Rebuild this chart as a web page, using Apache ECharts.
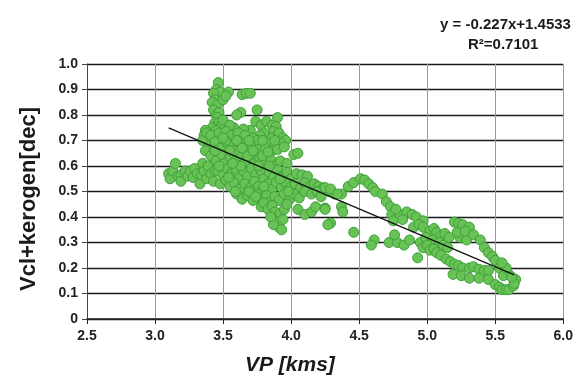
<!DOCTYPE html>
<html>
<head>
    <meta charset="utf-8">
    <title>VP vs Vcl+kerogen</title>
    <script src="https://cdn.jsdelivr.net/npm/echarts@6/dist/echarts.min.js"></script>
    <style>
        html, body { margin: 0; padding: 0; background: #fff; }
    </style>
</head>
<body>
<div id="main" style="width: 576px;height:385px;"></div>
<script type="text/javascript">
    // data, grouped by the part of the cloud they belong to
    // each point is [VP (km/s), Vcl+kerogen (dec)]
    const leftBand = [
        [3.10,0.57],[3.11,0.55],[3.13,0.58],[3.15,0.61],[3.17,0.56],[3.19,0.565],[3.19,0.54],
        [3.22,0.58],[3.24,0.56],[3.26,0.58],[3.28,0.555],[3.29,0.59],[3.31,0.57],[3.33,0.53],
        [3.34,0.565],[3.35,0.61],[3.36,0.58],[3.38,0.55],[3.39,0.60],[3.41,0.57],[3.43,0.54],[3.44,0.58]
    ];
    const upperColumn = [
        [3.465,0.927],[3.45,0.90],[3.48,0.89],[3.43,0.885],[3.44,0.86],[3.42,0.85],[3.46,0.84],
        [3.43,0.82],[3.45,0.80],[3.47,0.81],[3.46,0.79],[3.44,0.77],[3.47,0.77],[3.49,0.76],
        [3.42,0.75],[3.45,0.74],[3.50,0.78],[3.50,0.86],[3.54,0.89],[3.52,0.875],[3.64,0.88],
        [3.67,0.885],[3.70,0.885],[3.63,0.81],[3.60,0.80],[3.75,0.82],[3.74,0.775],[3.78,0.76],
        [3.82,0.775],[3.86,0.76],[3.90,0.79],[3.89,0.755],[3.87,0.735],[3.91,0.73],[3.94,0.71],
        [3.96,0.70],[3.92,0.69],[3.85,0.71],[3.80,0.73],[3.77,0.72],[3.70,0.74],[3.65,0.745],
        [3.58,0.75],[3.55,0.76],[3.37,0.74],[3.39,0.71],[3.36,0.72],[3.35,0.70]
    ];
    const mainMass = [
        [3.38,0.73],[3.41,0.72],[3.47,0.73],[3.52,0.735],[3.56,0.72],[3.61,0.73],[3.66,0.72],
        [3.72,0.71],[3.75,0.70],[3.82,0.69],[3.88,0.70],
        [3.40,0.68],[3.44,0.695],[3.48,0.67],[3.53,0.69],[3.57,0.68],[3.62,0.695],[3.67,0.67],
        [3.70,0.685],[3.76,0.665],[3.81,0.67],[3.86,0.66],[3.90,0.665],[3.95,0.675],[3.37,0.66],
        [3.41,0.64],[3.45,0.62],[3.49,0.645],[3.51,0.61],[3.55,0.635],[3.59,0.62],[3.63,0.64],
        [3.66,0.615],[3.70,0.635],[3.73,0.61],[3.77,0.63],[3.81,0.615],[3.85,0.625],[3.88,0.60],
        [3.92,0.62],[3.97,0.61],[4.02,0.645],[4.05,0.65],
        [3.46,0.58],[3.50,0.565],[3.53,0.59],[3.56,0.57],[3.60,0.585],[3.62,0.555],[3.65,0.58],
        [3.68,0.56],[3.71,0.59],[3.74,0.565],[3.78,0.58],[3.80,0.55],[3.84,0.575],[3.87,0.555],
        [3.90,0.585],[3.93,0.56],[3.97,0.575],[4.00,0.55],[4.04,0.57],[4.08,0.565],[4.12,0.56],
        [3.48,0.53],[3.52,0.545],[3.55,0.52],[3.58,0.535],[3.62,0.51],[3.66,0.53],[3.70,0.515],
        [3.73,0.54],[3.76,0.52],[3.79,0.505],[3.83,0.53],[3.86,0.51],[3.89,0.535],[3.93,0.515],
        [3.96,0.535],[4.00,0.52],[4.03,0.53],[4.07,0.515],[4.10,0.535],[4.14,0.52],[4.17,0.53],
        [4.20,0.52],[4.24,0.515],
        [3.60,0.49],[3.64,0.47],[3.68,0.485],[3.72,0.465],[3.75,0.49],[3.78,0.47],[3.82,0.485],
        [3.85,0.46],[3.88,0.48],[3.91,0.465],[3.95,0.49],[3.99,0.47],[4.02,0.49],[4.06,0.475],
        [4.10,0.50],[4.15,0.49],[4.19,0.50],[4.22,0.48],[4.28,0.50],[4.32,0.49],[4.37,0.49],
        [3.52,0.70],[3.58,0.66],[3.63,0.60],[3.68,0.64],[3.72,0.66],[3.76,0.60],[3.79,0.64],
        [3.83,0.655],[3.57,0.61],[3.47,0.60],[3.54,0.555],[3.59,0.50],[3.69,0.50],[3.74,0.48],
        [3.80,0.52],[3.92,0.55],[3.98,0.50],[3.84,0.60],[3.44,0.66],[3.50,0.71],[3.55,0.66],
        [3.60,0.70],[3.64,0.67],[3.69,0.70],[3.79,0.70]
    ];
    const lowerTail = [
        [3.78,0.44],[3.80,0.455],[3.83,0.43],[3.86,0.445],[3.88,0.42],[3.90,0.40],[3.89,0.38],
        [3.92,0.415],[3.94,0.39],[3.91,0.36],[3.93,0.35],[3.87,0.37],[3.85,0.40],[3.95,0.43],
        [3.97,0.45],[4.05,0.43],[4.10,0.41],[4.15,0.42],[4.18,0.44],[4.25,0.435],[4.29,0.376]
    ];
    const midSlope = [
        [4.25,0.515],[4.29,0.51],[4.34,0.49],[4.37,0.44],[4.38,0.42],[4.27,0.37],[4.25,0.43],
        [4.42,0.52],[4.46,0.535],[4.51,0.55],[4.54,0.545],[4.57,0.53],[4.60,0.515],[4.62,0.50],
        [4.67,0.49],[4.70,0.46],[4.73,0.44],[4.74,0.41],[4.75,0.385],[4.80,0.41],[4.85,0.42],
        [4.89,0.41],[4.92,0.40],[4.97,0.385],[4.77,0.43],[4.82,0.39],[4.46,0.34],[4.61,0.31],
        [4.59,0.29],[4.72,0.30],[4.78,0.30],[4.76,0.33],[4.83,0.29],[4.87,0.31],[4.93,0.24],[4.95,0.30]
    ];
    const rightLoop = [
        [4.90,0.36],[4.94,0.37],[4.97,0.36],[5.02,0.345],[5.05,0.355],[5.07,0.34],[5.10,0.325],
        [5.13,0.335],[5.16,0.32],[5.20,0.38],[5.23,0.375],[5.26,0.37],[5.31,0.36],[5.24,0.32],
        [5.29,0.31],[5.22,0.34],[5.28,0.345],[5.34,0.33],[5.39,0.31],[5.42,0.28],[5.45,0.26],
        [5.48,0.245],[5.50,0.23],[5.53,0.20],[4.99,0.32],[5.04,0.31],[5.09,0.30],[5.12,0.29],[5.15,0.28],
        [4.97,0.28],[5.00,0.29],[5.02,0.27],[5.05,0.275],[5.07,0.26],[5.10,0.25],[5.14,0.235],
        [5.17,0.225],[5.20,0.215],[5.23,0.21],[5.26,0.20],[5.31,0.20],[5.34,0.205],[5.38,0.195],
        [5.42,0.19],[5.45,0.19],[5.19,0.175],[5.25,0.17],[5.31,0.16],[5.38,0.16],[5.45,0.155],
        [5.50,0.135],[5.53,0.125],[5.55,0.115],[5.58,0.115],[5.60,0.115],[5.635,0.13],[5.65,0.155],
        [5.64,0.14],[5.60,0.175],[5.56,0.17],[5.58,0.20],[5.55,0.22],[5.62,0.165]
    ];

    // fitted line as printed on the chart
    const slope = -0.227;
    const intercept = 1.4533;
    const r2 = 0.7101;
    const trendRange = [3.1, 5.64];

    const points = [].concat(leftBand, upperColumn, mainMass, lowerTail, midSlope, rightLoop);
    const trendLine = trendRange.map(function (x) { return [x, slope * x + intercept]; });

    const font = "'Liberation Sans', Arial, sans-serif";

    let myChart = echarts.init(document.getElementById('main'));
    myChart.setOption({
        animation: false,
        backgroundColor: '#fff',
        grid: { left: 87, right: 5, top: 64, bottom: 66 },
        xAxis: {
            type: 'value',
            min: 2.5,
            max: 6.0,
            interval: 0.5,
            axisLine: { show: true, onZero: false, lineStyle: { color: '#222', width: 1.5 } },
            axisTick: { show: true, length: 5, lineStyle: { color: '#222' } },
            axisLabel: {
                margin: 10,
                color: '#222',
                fontFamily: font,
                fontWeight: 'bold',
                fontSize: 14,
                formatter: function (v) { return v.toFixed(1); }
            },
            splitLine: { show: true, lineStyle: { color: '#999', width: 1 } }
        },
        yAxis: {
            type: 'value',
            min: 0,
            max: 1.0,
            interval: 0.1,
            axisLine: { show: true, lineStyle: { color: '#444', width: 1 } },
            axisTick: { show: true, length: 5, lineStyle: { color: '#444' } },
            axisLabel: {
                margin: 9,
                color: '#222',
                fontFamily: font,
                fontWeight: 'bold',
                fontSize: 14,
                formatter: function (v) { return v === 0 ? '0' : v.toFixed(1); }
            },
            splitLine: { show: true, lineStyle: { color: '#1a1a1a', width: 1.3 } }
        },
        graphic: [
            {
                type: 'text', left: 440, top: 17,
                style: { text: 'y = -0.227x+1.4533', fontFamily: font, fontWeight: 'bold', fontSize: 15, fill: '#1a1a1a' }
            },
            {
                type: 'text', left: 468, top: 37,
                style: { text: 'R\u00b2=' + r2.toFixed(4), fontFamily: font, fontWeight: 'bold', fontSize: 15, fill: '#1a1a1a' }
            },
            {
                type: 'text', left: 245, top: 355,
                style: { text: 'VP [kms]', fontFamily: font, fontWeight: 'bold', fontStyle: 'italic', fontSize: 21, fill: '#1a1a1a' }
            },
            {
                type: 'text', x: 29, y: 199, rotation: Math.PI / 2,
                style: { text: 'Vcl+kerogen[dec]', fontFamily: font, fontWeight: 'bold', fontSize: 22, fill: '#1a1a1a', align: 'center', verticalAlign: 'middle' }
            }
        ],
        series: [
            {
                type: 'scatter',
                data: points,
                symbolSize: 10,
                itemStyle: { color: '#68c255', borderColor: '#3ea039', borderWidth: 1, opacity: 1 },
                z: 2
            },
            {
                type: 'line',
                data: trendLine,
                showSymbol: false,
                lineStyle: { color: '#111', width: 1.2 },
                z: 3
            }
        ]
    });
</script>
</body>
</html>
